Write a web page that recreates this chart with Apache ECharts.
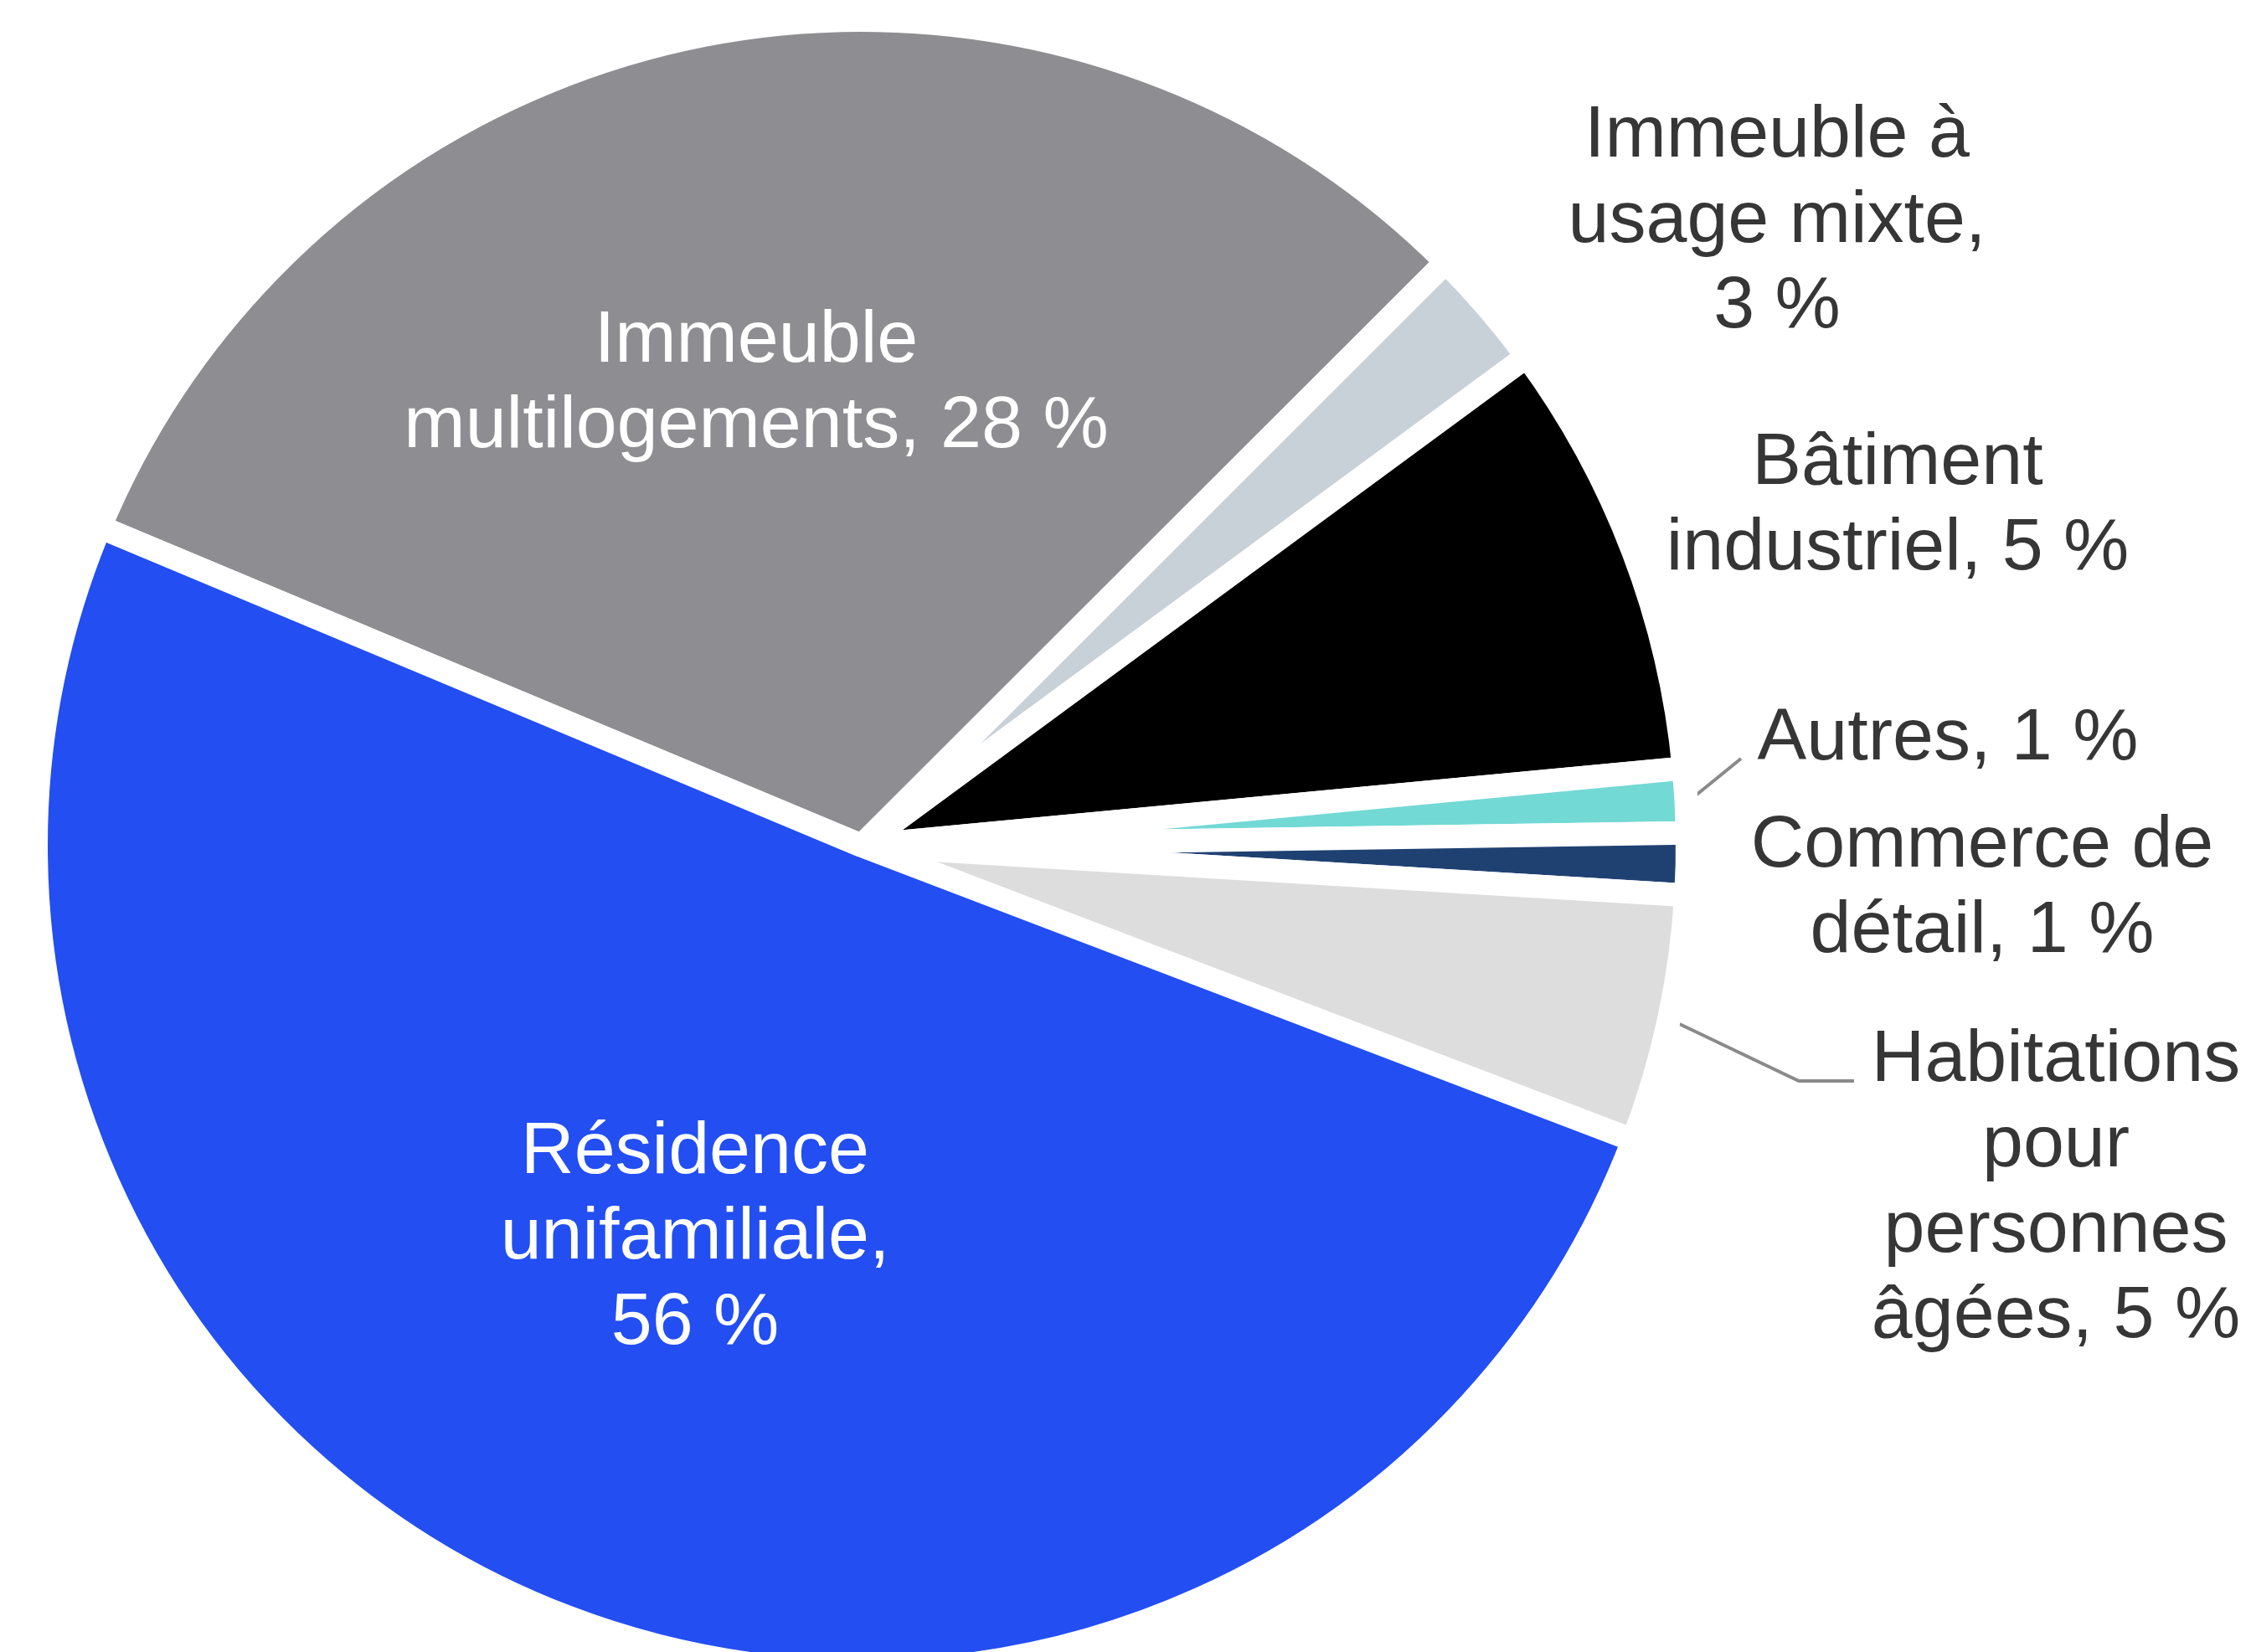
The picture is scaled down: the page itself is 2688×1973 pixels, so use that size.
<!DOCTYPE html>
<html><head><meta charset="utf-8">
<script src="https://cdn.jsdelivr.net/npm/echarts@6/dist/echarts.min.js"></script>
<style>html,body{margin:0;padding:0;background:#fff}#chart{width:2688px;height:1973px}</style>
</head><body><div id="chart"></div>
<script>
const categories = ['Immeuble multilogements','Immeuble à usage mixte','Bâtiment industriel','Autres','Commerce de détail','Habitations pour personnes âgées','Résidence unifamiliale'];
const values = [31.2, 2.4, 8.6, 1.25, 1.2, 4.85, 50.5];
const pctLabels = ['28 %','3 %','5 %','1 %','1 %','5 %','56 %'];
const wrappedNames = ['Immeuble\nmultilogements,','Immeuble à\nusage mixte,\n','Bâtiment\nindustriel,','Autres,','Commerce de\ndétail,','Habitations\npour\npersonnes\nâgées,','Résidence\nunifamiliale,\n'];

// Styling / layout
const colors = ['#8e8e92','#c9d1d8','#000000','#72d9d5','#1f4172','#dddddd','#234ef1'];
const insideLabel = [true,false,false,false,false,false,true];
const labelAnchors = [[903,459],[2122,265],[2266,605],[2326,883],[2367,1062],[2455,1420],[830,1479]];
const leaders = {3: [null,[2079,906]], 5: [[2148,1291],[2214,1291]]};
const CENTER = [1029, 1010], RADIUS = 986, START = 157.3, LEADER_R = 990;

const total = values.reduce((a, b) => a + b, 0);
function midPoint(i) {
  let before = 0;
  for (let k = 0; k < i; k++) before += values[k];
  const frac = (before + values[i] / 2) / total;
  const ang = (START - frac * 360) * Math.PI / 180;
  return [CENTER[0] + LEADER_R * Math.cos(ang), CENTER[1] - LEADER_R * Math.sin(ang)];
}

const chart = echarts.init(document.getElementById('chart'), null, {renderer:'canvas'});
const data = categories.map((name, i) => ({
  name,
  value: values[i],
  itemStyle: {color: colors[i]},
  label: {
    show: true,
    position: insideLabel[i] ? 'inside' : 'outside',
    color: insideLabel[i] ? '#ffffff' : '#363636',
    formatter: () => wrappedNames[i] + (wrappedNames[i].endsWith('\n') ? '' : ' ') + pctLabels[i]
  },
  labelLine: {show: !!leaders[i], lineStyle: {color:'#8a8a8a', width:4}}
}));

chart.setOption({
  animation: false,
  backgroundColor: '#ffffff',
  series: [{
    type: 'pie',
    center: CENTER,
    radius: RADIUS,
    startAngle: START,
    clockwise: true,
    avoidLabelOverlap: false,
    itemStyle: {borderColor: '#ffffff', borderWidth: 28, borderJoin: 'round'},
    label: {fontFamily: "'Liberation Sans', Arial, sans-serif", fontSize: 88, lineHeight: 102, align: 'center'},
    labelLine: {show: false},
    labelLayout: function (params) {
      const i = params.dataIndex;
      const p = labelAnchors[i];
      const out = {x: p[0], y: p[1], align: 'center', verticalAlign: 'middle'};
      if (leaders[i]) {
        const s = midPoint(i);
        const e = leaders[i][1];
        const m = leaders[i][0] || [(s[0] + e[0]) / 2, (s[1] + e[1]) / 2];
        out.labelLinePoints = [s, m, e];
      }
      return out;
    },
    data
  }]
});
</script></body></html>
